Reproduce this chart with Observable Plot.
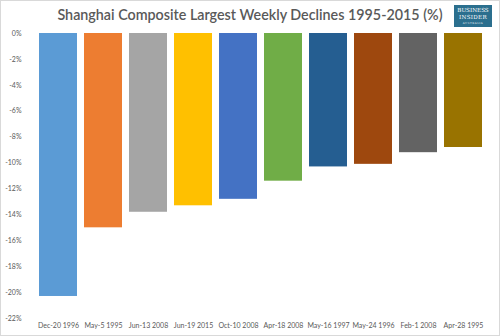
<!DOCTYPE html>
<html>
<head>
<meta charset="utf-8">
<script src="https://cdn.jsdelivr.net/npm/d3@7"></script>
<script src="https://cdn.jsdelivr.net/npm/@observablehq/plot@0.6"></script>
<style>
  html, body { margin: 0; padding: 0; background: #fff; }
  #wrap { position: relative; width: 500px; height: 336px; overflow: hidden; }
  #frame { position: absolute; left: 0; top: 0; width: 498px; height: 334px; border: 1px solid #d9d9d9; pointer-events: none; }
  #title { position: absolute; left: 0; width: 500px; top: 6px; text-align: center;
    font-family: Lato, sans-serif; font-size: 14.3px; line-height: 18px; color: #595959; font-weight: 600; }
  #logo { position: absolute; left: 454px; top: 5px; width: 38px; height: 22px; background: #2b6f8e;
    color: #fff; font-family: "DejaVu Serif", serif; text-align: center; }
  #logo div { white-space: nowrap; }
  #logo .a { font-size: 5.6px; line-height: 7.5px; padding-top: 1.5px; }
  #logo .b { font-size: 5.6px; line-height: 7.5px; letter-spacing: 0.3px; }
  #logo .c { font-size: 2.6px; line-height: 4px; letter-spacing: 0.5px; opacity: 0.8; }
</style>
</head>
<body>
<div id="wrap">
  <div id="title">Shanghai Composite Largest Weekly Declines 1995-2015 (%)</div>
  <div id="logo"><div class="a">BUSINESS</div><div class="b">INSIDER</div><div class="c">AUSTRALIA</div></div>
  <div id="chart"></div>
  <div id="frame"></div>
</div>
<script>
const weeks = ["Dec-20 1996", "May-5 1995", "Jun-13 2008", "Jun-19 2015", "Oct-10 2008",
               "Apr-18 2008", "May-16 1997", "May-24 1996", "Feb-1 2008", "Apr-28 1995"];
const declines = [-20.3, -15.0, -13.8, -13.3, -12.8, -11.4, -10.3, -10.1, -9.2, -8.8];
const colors = ["#5B9BD5", "#ED7D31", "#A5A5A5", "#FFC000", "#4472C4",
                "#70AD47", "#255E91", "#9E480E", "#636363", "#997300"];
const yTicks = [0, -2, -4, -6, -8, -10, -12, -14, -16, -18, -20, -22];

const data = weeks.map((w, i) => ({week: w, value: declines[i], color: colors[i]}));
const fmt = d => (d === 0 ? "0" : "-" + Math.abs(d)) + "%";

const chart = Plot.plot({
  width: 500,
  height: 336,
  marginTop: 33,
  marginBottom: 18,
  marginLeft: 27,
  marginRight: 7,
  style: {fontFamily: "Lato, sans-serif", fontSize: "7px", color: "#595959", background: "transparent"},
  x: {domain: weeks, padding: 0.157, label: null},
  y: {domain: [-22, 0], label: null},
  marks: [
    Plot.gridY(yTicks, {stroke: "#d9d9d9", strokeOpacity: 1, x1: 25, x2: 493}),
    Plot.barY(data, {x: "week", y1: 0, y2: "value", fill: d => d.color}),
    Plot.axisX({tickSize: 0, tickPadding: 5, fill: "#595959", fontSize: 7}),
    Plot.axisY({ticks: yTicks, tickSize: 0, tickPadding: 6, fill: "#595959", fontSize: 7, tickFormat: fmt})
  ]
});
document.getElementById("chart").appendChild(chart);
</script>
</body>
</html>
